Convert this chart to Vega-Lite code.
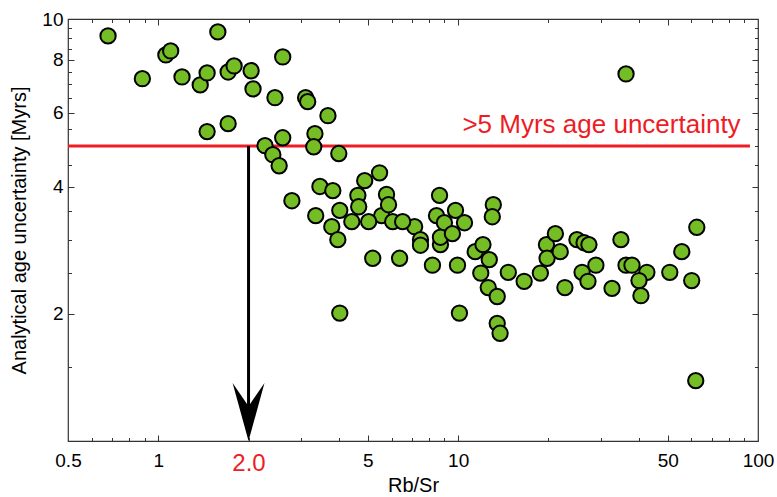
{
  "$schema": "https://vega.github.io/schema/vega-lite/v6.json",
  "width": 690,
  "height": 422,
  "autosize": {"type": "none"},
  "padding": {"left": 68, "top": 19, "right": 19, "bottom": 56},
  "background": "white",
  "config": {
    "font": "Liberation Sans",
    "view": {"stroke": "#333333", "strokeWidth": 1.2},
    "axis": {"domain": false, "grid": false, "tickColor": "#333333", "tickWidth": 1, "labelColor": "black", "titleColor": "black"}
  },
  "datasets": {
    "pts": [
      {"x": 0.68, "y": 9.12}, {"x": 0.885, "y": 7.22}, {"x": 1.06, "y": 8.22}, {"x": 1.1, "y": 8.4},
      {"x": 1.2, "y": 7.29}, {"x": 1.38, "y": 6.98}, {"x": 1.455, "y": 7.45}, {"x": 1.58, "y": 9.32},
      {"x": 1.455, "y": 5.41}, {"x": 1.71, "y": 5.65}, {"x": 1.71, "y": 7.49}, {"x": 1.79, "y": 7.74},
      {"x": 2.04, "y": 7.54}, {"x": 2.07, "y": 6.83}, {"x": 2.45, "y": 6.51}, {"x": 2.6, "y": 8.13},
      {"x": 3.1, "y": 6.51}, {"x": 3.15, "y": 6.37}, {"x": 3.68, "y": 5.9}, {"x": 3.33, "y": 5.35},
      {"x": 3.3, "y": 4.98}, {"x": 2.6, "y": 5.23}, {"x": 2.27, "y": 5.01}, {"x": 2.41, "y": 4.77},
      {"x": 2.53, "y": 4.49}, {"x": 4.0, "y": 4.8}, {"x": 2.79, "y": 3.71}, {"x": 3.46, "y": 4.01},
      {"x": 3.82, "y": 3.92}, {"x": 4.03, "y": 3.52}, {"x": 3.35, "y": 3.42}, {"x": 4.42, "y": 3.31},
      {"x": 4.63, "y": 3.82}, {"x": 4.66, "y": 3.59}, {"x": 4.88, "y": 4.14}, {"x": 5.47, "y": 4.32},
      {"x": 5.56, "y": 3.42}, {"x": 5.77, "y": 3.84}, {"x": 5.86, "y": 3.63}, {"x": 5.03, "y": 3.31},
      {"x": 6.05, "y": 3.31}, {"x": 3.79, "y": 3.22}, {"x": 3.97, "y": 3.0}, {"x": 5.19, "y": 2.71},
      {"x": 6.38, "y": 2.71}, {"x": 4.03, "y": 2.01}, {"x": 8.67, "y": 3.82}, {"x": 7.16, "y": 3.22},
      {"x": 8.47, "y": 3.42}, {"x": 9.0, "y": 3.29}, {"x": 7.49, "y": 3.0}, {"x": 7.49, "y": 2.91},
      {"x": 8.73, "y": 2.92}, {"x": 8.73, "y": 3.04}, {"x": 8.21, "y": 2.61}, {"x": 13.1, "y": 3.63},
      {"x": 13.0, "y": 3.4}, {"x": 9.8, "y": 3.52}, {"x": 10.5, "y": 3.29}, {"x": 9.57, "y": 3.1},
      {"x": 6.53, "y": 3.31}, {"x": 9.95, "y": 2.61}, {"x": 11.4, "y": 2.81}, {"x": 12.1, "y": 2.92},
      {"x": 12.7, "y": 2.69}, {"x": 11.9, "y": 2.5}, {"x": 12.6, "y": 2.31}, {"x": 13.5, "y": 2.2},
      {"x": 14.7, "y": 2.51}, {"x": 16.6, "y": 2.39}, {"x": 18.8, "y": 2.5}, {"x": 19.7, "y": 2.92},
      {"x": 19.8, "y": 2.71}, {"x": 21.1, "y": 3.1}, {"x": 21.9, "y": 2.81}, {"x": 10.1, "y": 2.01},
      {"x": 13.5, "y": 1.9}, {"x": 13.8, "y": 1.8}, {"x": 24.9, "y": 3.0}, {"x": 26.3, "y": 2.95},
      {"x": 27.3, "y": 2.92}, {"x": 34.9, "y": 3.0}, {"x": 28.8, "y": 2.61}, {"x": 25.9, "y": 2.51},
      {"x": 27.1, "y": 2.39}, {"x": 22.7, "y": 2.31}, {"x": 32.6, "y": 2.3}, {"x": 36.3, "y": 2.61},
      {"x": 38.0, "y": 2.61}, {"x": 42.6, "y": 2.51}, {"x": 40.1, "y": 2.4}, {"x": 40.7, "y": 2.21},
      {"x": 50.8, "y": 2.51}, {"x": 55.7, "y": 2.81}, {"x": 60.1, "y": 2.4}, {"x": 62.5, "y": 3.21},
      {"x": 36.3, "y": 7.41}, {"x": 62.0, "y": 1.39}
    ]
  },
  "resolve": {"axis": {"x": "independent", "y": "independent"}},
  "layer": [
    {
      "data": {"values": [{"x1": 0.5, "x2": 94, "y": 5}]},
      "mark": {"type": "rule", "color": "#ee1c25", "strokeWidth": 3},
      "encoding": {
        "x": {"field": "x1", "type": "quantitative", "scale": {"type": "log", "domain": [0.5, 100], "nice": false},
          "axis": {"orient": "bottom", "values": [1, 5, 10, 50], "tickSize": -6, "labels": false, "title": null}},
        "x2": {"field": "x2"},
        "y": {"field": "y", "type": "quantitative", "scale": {"type": "log", "domain": [1, 10], "nice": false},
          "axis": {"orient": "left", "values": [2, 4, 6, 8], "tickSize": -6, "labels": false, "title": null}}
      }
    },
    {
      "data": {"values": [{"x": 2, "y1": 5, "y2": 1.1}]},
      "mark": {"type": "rule", "color": "black", "strokeWidth": 3},
      "encoding": {
        "x": {"field": "x", "type": "quantitative", "scale": {"type": "log", "domain": [0.5, 100], "nice": false},
          "axis": {"orient": "bottom", "values": [0.6, 0.7, 0.8, 0.9, 2, 3, 4, 6, 7, 8, 9, 20, 30, 40, 60, 70, 80, 90], "tickSize": -3.5, "labels": false, "title": null}},
        "y": {"field": "y1", "type": "quantitative", "scale": {"type": "log", "domain": [1, 10], "nice": false},
          "axis": {"orient": "left", "values": [1.5, 2.5, 3, 3.5, 4.5, 5, 5.5, 6.5, 7, 7.5, 8.5, 9, 9.5], "tickSize": -3.5, "labels": false, "title": null}},
        "y2": {"field": "y2"}
      }
    },
    {
      "data": {"values": [{"x": 2, "y": 1}]},
      "mark": {"type": "point", "shape": "M0,0 L-0.55,-2 L0,-1.2 L0.55,-2 Z", "size": 3364, "filled": true, "color": "black", "opacity": 1, "strokeWidth": 0},
      "encoding": {
        "x": {"field": "x", "type": "quantitative", "scale": {"type": "log", "domain": [0.5, 100], "nice": false},
          "axis": {"orient": "top", "values": [1, 5, 10, 50], "tickSize": -6, "labels": false, "title": null}},
        "y": {"field": "y", "type": "quantitative", "scale": {"type": "log", "domain": [1, 10], "nice": false},
          "axis": {"orient": "right", "values": [2, 4, 6, 8], "tickSize": -6, "labels": false, "title": null}}
      }
    },
    {
      "data": {"values": [{"x": 87.5, "y": 5.38, "label": ">5 Myrs age uncertainty"}]},
      "mark": {"type": "text", "align": "right", "baseline": "alphabetic", "fontSize": 26, "color": "#ee1c25", "font": "Liberation Sans"},
      "encoding": {
        "x": {"field": "x", "type": "quantitative", "scale": {"type": "log", "domain": [0.5, 100], "nice": false},
          "axis": {"orient": "top", "values": [0.6, 0.7, 0.8, 0.9, 2, 3, 4, 6, 7, 8, 9, 20, 30, 40, 60, 70, 80, 90], "tickSize": -3.5, "labels": false, "title": null}},
        "y": {"field": "y", "type": "quantitative", "scale": {"type": "log", "domain": [1, 10], "nice": false},
          "axis": {"orient": "right", "values": [1.5, 2.5, 3, 3.5, 4.5, 5, 5.5, 6.5, 7, 7.5, 8.5, 9, 9.5], "tickSize": -3.5, "labels": false, "title": null}},
        "text": {"field": "label"}
      }
    },
    {
      "data": {"name": "pts"},
      "mark": {"type": "point", "shape": "circle", "filled": true, "size": 235, "fill": "#74bd24", "stroke": "black", "strokeWidth": 2, "opacity": 1, "fillOpacity": 1, "strokeOpacity": 1},
      "encoding": {
        "x": {"field": "x", "type": "quantitative", "scale": {"type": "log", "domain": [0.5, 100], "nice": false},
          "axis": {"orient": "bottom", "values": [0.5, 1, 2, 5, 10, 50, 100], "ticks": false,
            "labelExpr": "datum.value == 2 ? '2.0' : format(datum.value, '~g')",
            "labelFontSize": {"condition": {"test": "datum.value == 2", "value": 24}, "value": 19},
            "labelColor": {"condition": {"test": "datum.value == 2", "value": "#ee1c25"}, "value": "black"},
            "labelPadding": 10, "labelFlush": false, "labelOverlap": false,
            "title": "Rb/Sr", "titleFontSize": 20, "titleFontWeight": "normal", "titlePadding": 0}},
        "y": {"field": "y", "type": "quantitative", "scale": {"type": "log", "domain": [1, 10], "nice": false},
          "axis": {"orient": "left", "values": [2, 4, 6, 8, 10], "ticks": false,
            "labelExpr": "format(datum.value, '~g')", "labelFontSize": 19, "labelPadding": 5,
            "labelFlush": false, "labelOverlap": false,
            "title": "Analytical age uncertainty [Myrs]", "titleFontSize": 20, "titleFontWeight": "normal", "titlePadding": 12}}
      }
    }
  ]
}
